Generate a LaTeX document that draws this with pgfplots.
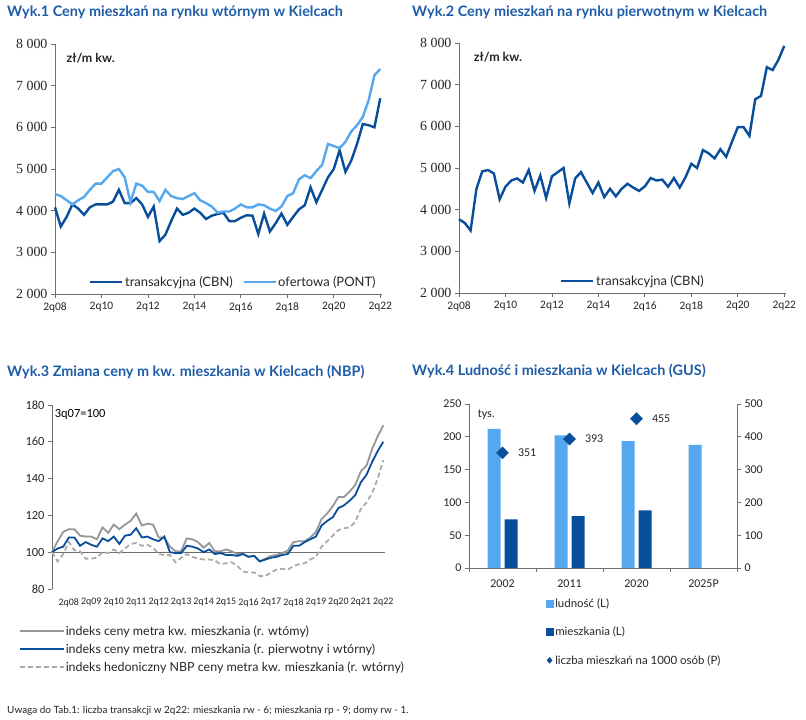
\documentclass[border=0pt]{standalone}
\usepackage{fontspec}
\setmainfont{Lato}
\newfontfamily\numfont{Carlito}
\newfontfamily\serfont{Liberation Serif}
\usepackage{pgfplots}
\usepackage{pgfplotstable}
\pgfplotsset{compat=1.18}
\definecolor{dblue}{RGB}{8,78,155}
\definecolor{lblue}{RGB}{85,168,240}
\definecolor{tblue}{RGB}{31,92,168}
\definecolor{greyl}{RGB}{150,150,150}
\definecolor{axgrey}{RGB}{110,110,110}

\pgfplotstableread{
v
4080
3620
3850
4150
4050
3900
4080
4150
4150
4150
4220
4500
4180
4180
4300
4150
3850
4100
3270
3420
3750
4050
3900
3950
4050
3950
3800
3880
3920
3950
3750
3750
3830
3890
3880
3440
3930
3500
3700
3930
3660
3850
4030
4130
4560
4200
4500
4800
5000
5450
4930
5200
5600
6080
6050
6000
6700
}\wtrans
\pgfplotstableread{
v
4400
4350
4250
4150
4250
4330
4500
4650
4650
4800
4950
5000
4800
4200
4650
4600
4450
4450
4230
4500
4350
4300
4280
4350
4420
4250
4180
4100
3950
3980
3980
4050
4150
4080
4080
4150
4130
4050
3990
4100
4350
4420
4750
4850
4780
4950
5100
5600
5550
5500
5650
5900
6050
6250
6650
7250
7400
}\wofert
\pgfplotstableread{
v
3770
3680
3500
4500
4920
4950
4870
4250
4550
4700
4750
4650
4950
4450
4820
4280
4800
4900
5000
4150
4750
4900
4650
4400
4650
4300
4500
4320
4500
4620
4530
4450
4560
4760
4700
4720
4550
4760
4530
4780
5100
5000
5430
5350
5230
5450
5270
5630
5980
5980
5770
6650
6730
7420
7350
7600
7930
}\ptrans
\pgfplotstableread{
g b h
100 100 100
106 102 95
111 103 99
112.5 108 105.5
112.5 108 101
109 103.5 100.5
108.5 105.5 96.5
108.5 104 96.5
107 103 97
113.5 107.5 100
110.5 106 99.5
115 108.5 101.5
112.5 104.5 99.5
115 109 102
117 109.5 104.5
121 113 105
114.5 108 103.5
115.5 108.5 104
115 107 102.5
108 106 99
108 108.5 98.5
103 100 98.5
100.5 99.5 94.5
100.5 99.5 97
107.5 103.5 99
107 103 97.5
105.5 102 96.5
102.5 100 96
105 101.5 96
100.5 99 95.5
100.5 99.5 93.5
101.5 98.5 94
100.5 98.5 94.5
99 98 92.5
99 99 89.5
97.5 97.5 89
98 98 89
95 95 87
96.5 96 87
98 97 89
98.5 97.5 90.5
99.5 98.5 91
101 99 90.5
105.5 103.5 92.5
106 103.5 93.5
106 105.5 94
108 107 96
111 108.5 97.5
118 114.5 103
121 117 106
125 119 109
130 124 112
130 125.5 113
133 128 113.5
136.5 131 116.5
144 138 123.5
147 142 127
156 149 132
163 155 140
169 160 150
}\nbp

\pgfplotsset{
  base/.style={
    scale only axis, clip=false,
    axis lines=left, axis line style={-, axgrey, line width=0.8bp},
    tick style={axgrey, line width=0.8bp}, tick align=outside,
    major tick length=4bp,
    /pgf/number format/assume math mode=true,
    ticklabel style={font=\numfont\fontsize{12}{14}\selectfont, text=black!85},
    legend cell align=left,
  },
  pricechart/.style={
    base, width=327bp, height=250bp,
    xmin=0, xmax=56.3, ymin=2000, ymax=8000,
    xtick={0,8,16,24,32,40,48,56},
    xticklabels={2q08,2q10,2q12,2q14,2q16,2q18,2q20,2q22},
    x tick label style={font=\numfont\fontsize{11.5}{13}\selectfont, yshift=-1bp},
    ytick={2000,3000,4000,5000,6000,7000,8000},
    yticklabels={2 000,3 000,4 000,5 000,6 000,7 000,8 000},
    y tick label style={font=\serfont\fontsize{14}{16}\selectfont},
    legend style={draw=none, fill=none, font=\fontsize{13}{15}\selectfont, text=black!85,
      nodes={inner xsep=1.5bp},
      /tikz/every even column/.append style={column sep=8bp}},
    legend image code/.code={\draw[#1, line width=2.4bp] (0bp,0bp) -- (32bp,0bp);},
  },
}

\begin{document}
\begin{tikzpicture}
\path[use as bounding box, fill=white] (0bp,0bp) rectangle (806bp,720bp);

% titles
\node[anchor=west, text=tblue, font=\bfseries\fontsize{14.5}{17}\selectfont, inner sep=0] at (7bp,708bp) {Wyk.1 Ceny mieszkań na rynku wtórnym w Kielcach};
\node[anchor=west, text=tblue, font=\bfseries\fontsize{14.5}{17}\selectfont, inner sep=0] at (412bp,708bp) {Wyk.2 Ceny mieszkań na rynku pierwotnym w Kielcach};
\node[anchor=west, text=tblue, font=\bfseries\fontsize{14.5}{17}\selectfont, inner sep=0] at (7bp,348bp) {Wyk.3 Zmiana ceny m kw. mieszkania w Kielcach (NBP)};
\node[anchor=west, text=tblue, font=\bfseries\fontsize{14.5}{17}\selectfont, inner sep=0] at (412bp,349bp) {Wyk.4 Ludność i mieszkania w Kielcach (GUS)};
\node[anchor=west, font=\fontsize{10}{12}\selectfont, text=black!85, inner sep=0] at (7bp,9bp) {Uwaga do Tab.1: liczba transakcji w 2q22: mieszkania rw - 6; mieszkania rp - 9; domy rw - 1.};

% chart 1
\begin{axis}[pricechart, at={(55bp,426bp)}, anchor=south west,
  legend columns=2, legend style={at={(rel axis cs:0.095,0.048)}, anchor=west}]
\addplot[dblue, line width=2.4bp] table[x expr=\coordindex, y=v] {\wtrans};
\addlegendentry{transakcyjna (CBN)}
\addplot[lblue, line width=2.4bp] table[x expr=\coordindex, y=v] {\wofert};
\addlegendentry{ofertowa (PONT)}
\node[anchor=west, font=\bfseries\fontsize{12.5}{14}\selectfont, text=black!85] at (rel axis cs:0.025,0.944) {zł/m kw.};
\end{axis}

% chart 2
\begin{axis}[pricechart, at={(459bp,427bp)}, anchor=south west,
  legend style={at={(rel axis cs:0.3,0.048)}, anchor=west}]
\addplot[dblue, line width=2.4bp] table[x expr=\coordindex, y=v] {\ptrans};
\addlegendentry{transakcyjna (CBN)}
\node[anchor=west, font=\bfseries\fontsize{12.5}{14}\selectfont, text=black!85] at (rel axis cs:0.035,0.944) {zł/m kw.};
\end{axis}

% chart 3
\begin{axis}[base, at={(52bp,131bp)}, anchor=south west, width=333bp, height=184bp,
  xmin=0, xmax=59.3, ymin=80, ymax=180,
  axis x line*=bottom, x axis line style={draw=none},
  xtick={3,7,11,15,19,23,27,31,35,39,43,47,51,55,59},
  xticklabels={2q08,2q09,2q10,2q11,2q12,2q13,2q14,2q15,2q16,2q17,2q18,2q19,2q20,2q21,2q22},
  x tick label style={font=\numfont\fontsize{10}{11}\selectfont, yshift=-2bp},
  y tick label style={font=\numfont\fontsize{12.5}{14}\selectfont},
  xtick style={draw=none},
  ytick={80,100,...,180},
  legend style={draw=none, fill=none, at={(rel axis cs:-0.11,-0.175)}, anchor=north west,
     font=\fontsize{12.5}{14}\selectfont, text=black!85, row sep=3bp, nodes={inner xsep=1bp}},
  legend image code/.code={\draw[#1, line width=2.2bp] (0bp,0bp) -- (44bp,0bp);},
]
\addplot[axgrey, line width=0.8bp, forget plot] coordinates {(0,100) (59.3,100)};
\addplot[greyl, line width=1.8bp] table[x expr=\coordindex, y=g] {\nbp};
\addlegendentry{indeks ceny metra kw. mieszkania (r. wtómy)}
\addplot[dblue, line width=1.8bp] table[x expr=\coordindex, y=b] {\nbp};
\addlegendentry{indeks ceny metra kw. mieszkania (r. pierwotny i wtórny)}
\addplot[greyl!80, line width=1.8bp, dash pattern=on 5bp off 3bp] table[x expr=\coordindex, y=h] {\nbp};
\addlegendentry{indeks hedoniczny NBP ceny metra kw. mieszkania (r. wtórny)}
\node[anchor=west, font=\numfont\fontsize{12.5}{14}\selectfont, inner sep=1bp] at (rel axis cs:0.005,0.951) {3q07=100};
\end{axis}

% chart 4
\begin{axis}[base, at={(469bp,152bp)}, anchor=south west, width=268bp, height=164bp,
  xmin=-0.5, xmax=3.5, ymin=0, ymax=250,
  axis y line*=left, axis x line*=bottom,
  xtick={0,1,2,3}, xticklabels={2002,2011,2020,2025P},
  xtick style={draw=none},
  x tick label style={yshift=-4bp},
  ytick={0,50,...,250},
]
\addplot[ybar, bar width=13bp, bar shift=-8.5bp, fill=lblue, draw=none] coordinates {(0,212) (1,202) (2,193.5) (3,187.5)};
\addplot[ybar, bar width=13bp, bar shift=8.5bp, fill=dblue, draw=none] coordinates {(0,74) (1,79) (2,88)};
\draw[axgrey, line width=0.8bp] \foreach \t in {-0.5,0.5,1.5,2.5,3.5} {(axis cs:\t,0) -- ++(0bp,-4bp)};
\node[anchor=west, font=\numfont\fontsize{12}{14}\selectfont, text=black!85] at (rel axis cs:0.02,0.933) {tys.};
\end{axis}
\begin{axis}[base, at={(469bp,152bp)}, anchor=south west, width=268bp, height=164bp,
  xmin=-0.5, xmax=3.5, ymin=0, ymax=500,
  axis y line*=right, axis x line=none,
  ytick={0,100,...,500},
  legend style={draw=none, fill=none, at={(rel axis cs:0.275,-0.16)}, anchor=north west,
     font=\fontsize{11.5}{13}\selectfont, text=black!85, row sep=14bp},
]
\addlegendimage{legend image code/.code={\fill[lblue] (0bp,-3.5bp) rectangle (7bp,3.5bp);}}
\addlegendentry{ludność (L)}
\addlegendimage{legend image code/.code={\fill[dblue] (0bp,-3.5bp) rectangle (7bp,3.5bp);}}
\addlegendentry{mieszkania (L)}
\addplot[only marks, mark=square*, mark size=4.3bp, mark options={rotate=45, fill=dblue, draw=dblue},
  nodes near coords, point meta=explicit symbolic,
  nodes near coords style={anchor=west, xshift=12bp, font=\numfont\fontsize{12}{14}\selectfont, text=black!85},
  legend image code/.code={\fill[dblue] (3.5bp,-3bp) -- (6bp,0bp) -- (3.5bp,3bp) -- (1bp,0bp) -- cycle;}]
  coordinates {(0,351) [351] (1,393) [393] (2,455) [455]};
\addlegendentry{liczba mieszkań na 1000 osób (P)}
\end{axis}
\end{tikzpicture}
\end{document}
